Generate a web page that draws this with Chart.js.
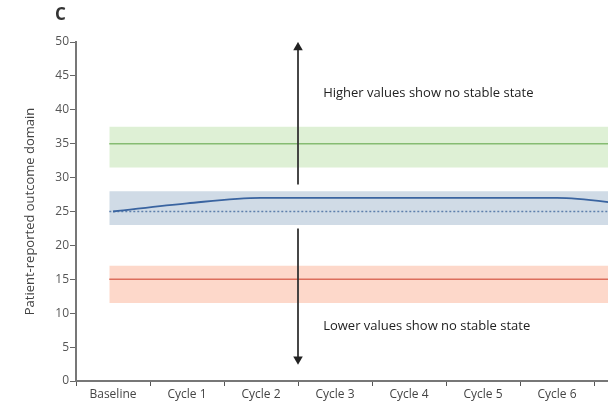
<!DOCTYPE html>
<html>
<head>
<meta charset="utf-8">
<script src="https://cdn.jsdelivr.net/npm/chart.js@4"></script>
<style>
  html, body { margin: 0; padding: 0; background: #fff; overflow: hidden; }
  #wrap { width: 680px; height: 407px; position: relative; }
</style>
</head>
<body>
<div id="wrap"><canvas id="myChart" width="680" height="407"></canvas></div>
<script>
const categories = ['Baseline', 'Cycle 1', 'Cycle 2', 'Cycle 3', 'Cycle 4', 'Cycle 5', 'Cycle 6', 'Cycle 7'];
const scoreValues = [25, 26.2, 27, 27, 27, 27, 27, 26];
const yTicks = [0, 5, 10, 15, 20, 25, 30, 35, 40, 45, 50];

// reference bands: [low, mid, high]
const stableBand = [23, 25, 28];
const highBand = [31.5, 35, 37.5];
const lowBand = [11.5, 15, 17];

// arrows: x position between Cycle 2 and Cycle 3, [from, to]
const arrowX = 2.5;
const upArrow = [29, 49.2];
const downArrow = [22.5, 3.2];

const bandStart = -0.05;
const bandEnd = 7.5;

// higher order = drawn first (underneath)
function band(y, low, color) {
  return {
    type: 'line', xAxisID: 'x2', order: 10,
    data: [{ x: bandStart, y: y }, { x: bandEnd, y: y }],
    borderWidth: 0, pointRadius: 0, backgroundColor: color,
    fill: { value: low }
  };
}
function hline(y, color, dash) {
  return {
    type: 'line', xAxisID: 'x2', order: 5,
    data: [{ x: bandStart, y: y }, { x: bandEnd, y: y }],
    borderColor: color, borderWidth: 1.5, borderDash: dash || [],
    pointRadius: 0, fill: false
  };
}
function arrow(span, rot) {
  return {
    type: 'line', xAxisID: 'x2', order: 0,
    data: [{ x: arrowX, y: span[0] }, { x: arrowX, y: span[1] }],
    borderColor: '#333', backgroundColor: '#222', borderWidth: 1.8,
    pointStyle: 'triangle', pointRadius: [0, 5.5], pointRotation: rot,
    pointBorderWidth: 0, fill: false
  };
}

const textPlugin = {
  id: 'texts',
  afterDraw(chart) {
    const ctx = chart.ctx;
    const x = chart.scales.x2, y = chart.scales.y;
    ctx.save();
    ctx.fillStyle = '#222';
    ctx.font = '13px "Open Sans"';
    ctx.textBaseline = 'middle';
    ctx.textAlign = 'left';
    ctx.fillText('Higher values show no stable state', x.getPixelForValue(2.84), y.getPixelForValue(42.5));
    ctx.fillText('Lower values show no stable state', x.getPixelForValue(2.84), y.getPixelForValue(8));
    ctx.font = 'bold 17px "Open Sans"';
    ctx.fillStyle = '#333';
    ctx.fillText('C', 55, 15);
    ctx.restore();
  }
};

new Chart(document.getElementById('myChart').getContext('2d'), {
  type: 'line',
  data: {
    labels: categories,
    datasets: [
      band(highBand[2], highBand[0], 'rgba(200, 230, 185, 0.6)'),
      band(stableBand[2], stableBand[0], 'rgba(196, 210, 224, 0.8)'),
      band(lowBand[2], lowBand[0], 'rgba(252, 200, 180, 0.7)'),
      hline(highBand[1], '#86bc72'),
      hline(lowBand[1], '#dc6e5c'),
      hline(stableBand[1], '#5f80ad', [2, 2]),
      {
        type: 'line', xAxisID: 'x', order: 1,
        data: scoreValues,
        borderColor: '#3a64a0', borderWidth: 1.8,
        pointRadius: 0, fill: false,
        cubicInterpolationMode: 'monotone'
      },
      arrow(upArrow, 0),
      arrow(downArrow, 180)
    ]
  },
  options: {
    responsive: false,
    animation: false,
    layout: { padding: { top: 42, right: 12, left: 22, bottom: 0 } },
    plugins: { legend: { display: false }, tooltip: { enabled: false } },
    scales: {
      x: {
        type: 'category',
        offset: true,
        border: { color: '#777', width: 2 },
        grid: { offset: true, drawOnChartArea: false, color: '#555', tickLength: 5 },
        ticks: { color: '#444', font: { family: 'Open Sans', size: 12 }, padding: 1, maxRotation: 0 },
        afterFit(scale) { scale.height = 26; }
      },
      x2: { type: 'linear', display: false, min: -0.5, max: 7.5 },
      y: {
        min: 0, max: 50,
        afterBuildTicks(scale) { scale.ticks = yTicks.map(v => ({ value: v })); },
        border: { color: '#777', width: 2 },
        grid: { drawOnChartArea: false, color: '#666', tickLength: 6 },
        ticks: { color: '#555', font: { family: 'Open Sans', size: 12 }, padding: 1 },
        title: {
          display: true, text: 'Patient-reported outcome domain',
          color: '#444', font: { family: 'Open Sans', size: 13 }, padding: { top: 0, bottom: 4 }
        },
        afterFit(scale) { scale.width = 54; }
      }
    }
  },
  plugins: [textPlugin]
});
</script>
</body>
</html>
